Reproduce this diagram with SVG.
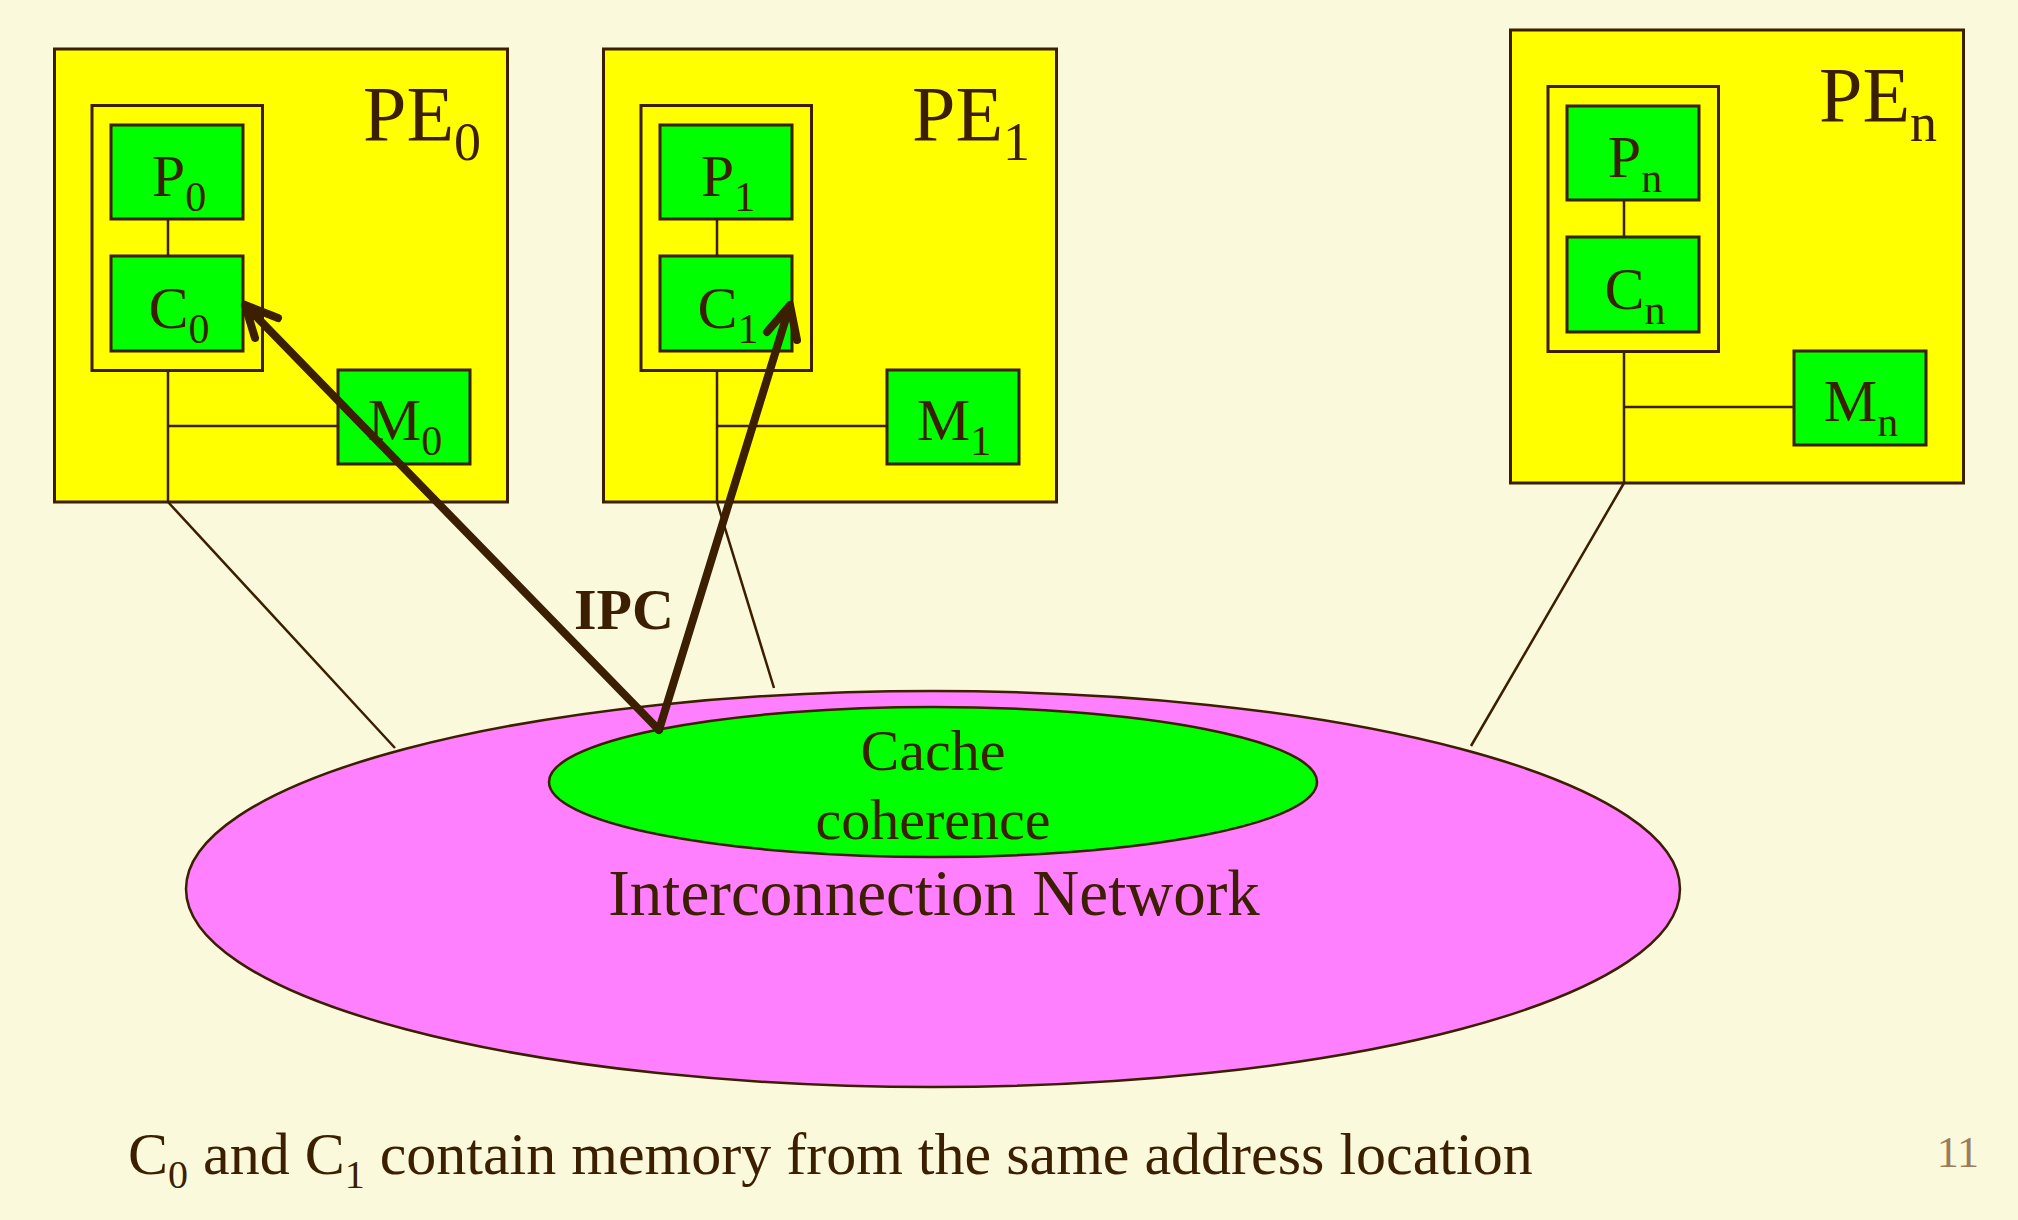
<svg xmlns="http://www.w3.org/2000/svg" width="2018" height="1220" viewBox="0 0 2018 1220">
<style>
.bg{fill:#FBF9DC}
.pe{fill:#FFFF00;stroke:#3C1E00;stroke-width:3}
.inner{fill:none;stroke:#3C1E00;stroke-width:3}
.box{fill:#00FF00;stroke:#3C1E00;stroke-width:3}
.t{font-family:"Liberation Serif","Times New Roman",serif;fill:#3C1E00}
.lbl{font-size:60px;text-anchor:middle}
.pel{font-size:78px}
.ln{stroke:#3C1E00;stroke-width:2.5;fill:none}
.arr{stroke:#3C1E00;stroke-width:8;fill:none;stroke-linecap:round;stroke-linejoin:round}
</style>
<defs>
<g id="peTpl">
<rect class="pe" x="54.5" y="49" width="453" height="453"/>
<rect class="inner" x="92" y="105.5" width="170.5" height="265"/>
<rect class="box" x="111" y="125" width="132" height="94"/>
<rect class="box" x="111" y="256" width="132" height="95"/>
<rect class="box" x="338" y="370" width="132" height="94"/>
</g>
</defs>
<rect class="bg" x="0" y="0" width="2018" height="1220"/>

<g id="network">
<ellipse cx="933" cy="889" rx="747" ry="198" fill="#FF80FF" stroke="#3C1E00" stroke-width="2.5"/>
<text class="t" x="934" y="915" font-size="65" text-anchor="middle">Interconnection Network</text>
</g>
<g id="cache-coherence">
<ellipse cx="933" cy="782" rx="384" ry="75" fill="#00FF00" stroke="#3C1E00" stroke-width="2.5"/>
<text class="t" x="933" y="770" font-size="58" text-anchor="middle">Cache</text>
<text class="t" x="933" y="839" font-size="58" text-anchor="middle">coherence</text>
</g>

<g id="pe0">
<use href="#peTpl"/>
<text class="t pel" x="363" y="140">PE<tspan dy="20" font-size="54">0</tspan></text>
<g id="p0"><text class="t lbl" x="179" y="196">P<tspan dy="15" font-size="42">0</tspan></text></g>
<g id="c0"><text class="t lbl" x="179" y="328">C<tspan dy="15" font-size="42">0</tspan></text></g>
<g id="m0"><text class="t lbl" x="405" y="440">M<tspan dy="15" font-size="42">0</tspan></text></g>
</g>

<g id="pe1" transform="translate(549,0)">
<use href="#peTpl"/>
<text class="t pel" x="363" y="140">PE<tspan dy="20" font-size="54">1</tspan></text>
<g id="p1"><text class="t lbl" x="179" y="196">P<tspan dy="15" font-size="42">1</tspan></text></g>
<g id="c1"><text class="t lbl" x="179" y="328">C<tspan dy="15" font-size="42">1</tspan></text></g>
<g id="m1"><text class="t lbl" x="405" y="440">M<tspan dy="15" font-size="42">1</tspan></text></g>
</g>

<g id="pen" transform="translate(1456,-19)">
<use href="#peTpl"/>
<text class="t pel" x="363" y="140">PE<tspan dy="20" font-size="54">n</tspan></text>
<g id="pn"><text class="t lbl" x="179" y="196">P<tspan dy="15" font-size="42">n</tspan></text></g>
<g id="cn"><text class="t lbl" x="179" y="328">C<tspan dy="15" font-size="42">n</tspan></text></g>
<g id="mn"><text class="t lbl" x="405" y="440">M<tspan dy="15" font-size="42">n</tspan></text></g>
</g>

<g id="connectors">
<path class="ln" d="M168,219 V256 M168,370.5 V502 M168,426 H338 M168,502 L395,748"/>
<path class="ln" d="M717,219 V256 M717,370.5 V502 M717,426 H887 M717,502 L774,688"/>
<path class="ln" d="M1624,200 V237 M1624,351.5 V483 M1624,407 H1794 M1624,483 L1471,746"/>
<path class="arr" d="M659,730 L245,305 M278,318 L245,305 L255,338"/>
<path class="arr" d="M659,730 L790,305 M767,332 L790,305 L797,340"/>
<text class="t" x="574" y="629" font-size="58" font-weight="bold">IPC</text>
</g>

<text class="t" x="128" y="1174" font-size="60">C<tspan dy="14" font-size="40">0</tspan><tspan dy="-14"> and C</tspan><tspan dy="14" font-size="40">1</tspan><tspan dy="-14"> contain memory from the same address location</tspan></text>
<text x="1979" y="1167" font-size="44" text-anchor="end" font-family="Liberation Serif, Times New Roman, serif" fill="#9C7C5C">11</text>
</svg>
